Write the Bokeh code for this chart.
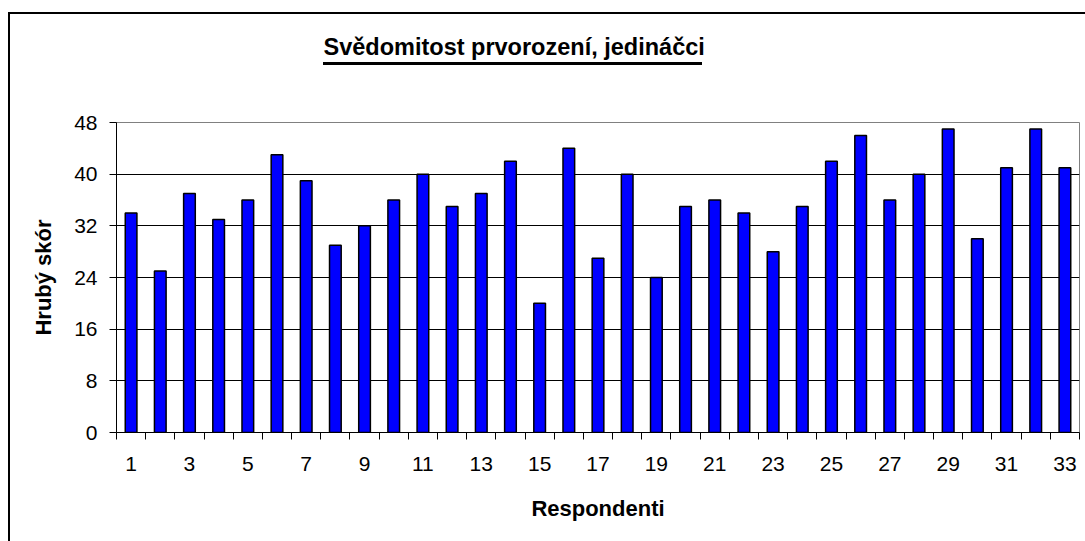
from bokeh.plotting import figure
from bokeh.models import Range1d, FixedTicker, Title, LinearAxis, InlineStyleSheet
from bokeh.embed import file_html
from bokeh.resources import INLINE

respondents = list(range(1, 34))
scores = [34, 25, 37, 33, 36, 43, 39, 29, 32, 36, 40, 35, 37, 42, 20, 44, 27,
          40, 24, 35, 36, 34, 28, 35, 42, 46, 36, 40, 47, 30, 41, 47, 41]
y_ticks = [0, 8, 16, 24, 32, 40, 48]
x_label_ticks = [r for r in respondents if r % 2 == 1]
title_text = "Svědomitost prvorození, jedináčci"
x_title = "Respondenti"
y_title = "Hrubý skór"

FONT = "Liberation Sans"

p = figure(width=1085, height=541, output_backend="svg", toolbar_location=None,
           x_range=Range1d(0.5, len(respondents) + 0.5), y_range=Range1d(0, 48),
           x_axis_type=None,
           min_border_left=116, min_border_right=6, min_border_top=122, min_border_bottom=109)
p.background_fill_color = "white"
p.border_fill_color = "white"
p.outline_line_color = "#808080"
p.outline_line_width = 1

p.vbar(x=respondents, top=scores, width=0.4, fill_color="#0000FF",
       line_color="black", line_width=1.5)

# y axis
p.yaxis.ticker = FixedTicker(ticks=y_ticks, minor_ticks=[])
p.yaxis.major_tick_out = 7
p.yaxis.major_tick_in = 0
p.yaxis.minor_tick_out = 0
p.yaxis.minor_tick_in = 0
p.yaxis.major_label_standoff = 12
p.yaxis.major_label_text_font = FONT
p.yaxis.major_label_text_font_size = "21px"
p.yaxis.major_label_text_color = "black"
p.yaxis.axis_line_color = "black"
p.yaxis.major_tick_line_color = "black"
p.yaxis.axis_label = y_title
p.yaxis.axis_label_text_font = FONT
p.yaxis.axis_label_text_font_size = "22px"
p.yaxis.axis_label_text_font_style = "bold"
p.yaxis.axis_label_text_color = "black"
p.yaxis.axis_label_standoff = 15

# x axis 1: tick marks between categories, no labels
boundaries = [r - 0.5 for r in respondents] + [respondents[-1] + 0.5]
tick_axis = LinearAxis(ticker=FixedTicker(ticks=boundaries, minor_ticks=[]),
                       major_tick_out=7, major_tick_in=0,
                       major_tick_line_color="black", axis_line_color="black",
                       major_label_text_font_size="0px", major_label_standoff=0,
                       minor_tick_out=0, minor_tick_in=0)
tick_axis.major_label_overrides = {b: "" for b in boundaries}
p.add_layout(tick_axis, "below")

# x axis 2: labels at odd respondents, no line/ticks
label_axis = LinearAxis(ticker=FixedTicker(ticks=x_label_ticks, minor_ticks=[]),
                        major_tick_out=0, major_tick_in=0,
                        minor_tick_out=0, minor_tick_in=0,
                        axis_line_color=None, major_tick_line_color=None,
                        major_label_standoff=17,
                        major_label_text_font=FONT, major_label_text_font_size="21px",
                        major_label_text_color="black",
                        axis_label=x_title, axis_label_text_font=FONT,
                        axis_label_text_font_size="22px", axis_label_text_font_style="bold",
                        axis_label_text_color="black", axis_label_standoff=22)
p.add_layout(label_axis, "below")

# grid
p.ygrid.ticker = FixedTicker(ticks=y_ticks[1:-1])
p.ygrid.grid_line_color = "black"
p.ygrid.grid_line_width = 1

# spacer between title and plot area, then the title
p.add_layout(Title(text=" ", text_font_size="1px", standoff=55), "above")
p.title = Title(text=title_text, align="left", offset=207, text_font=FONT,
                text_font_size="23.5px", text_font_style="bold", text_color="black",
                standoff=10)

# outer chart frame and title underline (decoration)
css = """
:host { position: relative; }
:host::after { content: ""; position: absolute; left: 8px; top: 12px; right: 0px; bottom: 0px;
  border-left: 2px solid black; border-top: 2px solid black; pointer-events: none; z-index: 5; }
:host::before { content: ""; position: absolute; left: 323px; top: 62px; width: 379px; height: 2.5px;
  background: black; pointer-events: none; z-index: 5; }
"""
p.stylesheets = [InlineStyleSheet(css=css)]

open("out.html", "w").write(file_html(p, INLINE))
